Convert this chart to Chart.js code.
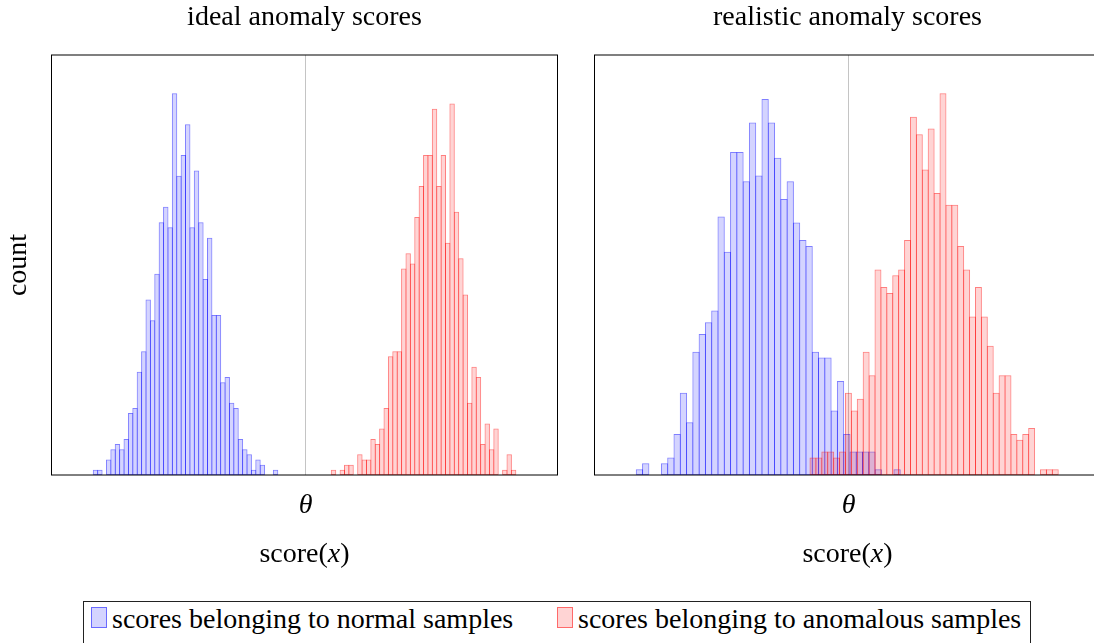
<!DOCTYPE html>
<html>
<head>
<meta charset="utf-8">
<script src="https://cdn.jsdelivr.net/npm/chart.js@4.4.1/dist/chart.umd.min.js"></script>
<style>
  html, body { margin: 0; padding: 0; background: #fff; }
  body { width: 1094px; height: 643px; overflow: hidden; position: relative; font-family: "Liberation Serif", serif; color: #000; }
  #left { position: absolute; left: 0; top: 0; }
  #right { position: absolute; left: 570px; top: 0; }
  #legend { position: absolute; left: 83px; top: 601px; width: 948px; height: 60px; border: 1px solid #222; box-sizing: border-box; }
  .sw { position: absolute; top: 5px; width: 16px; height: 21px; box-sizing: border-box; border: 1px solid; }
  .lbl { position: absolute; top: 2.5px; font-size: 28px; line-height: 28px; white-space: nowrap; }
</style>
</head>
<body>
<canvas id="left" width="580" height="600"></canvas>
<canvas id="right" width="540" height="600"></canvas>
<div id="legend">
  <span class="sw" id="sw0" style="left:7px"></span><span class="lbl" id="lbl0" style="left:28px"></span>
  <span class="sw" id="sw1" style="left:473px"></span><span class="lbl" id="lbl1" style="left:494px"></span>
</div>
<script>
// Score axis (arbitrary units) and decision threshold
const X_MIN = 0;
const X_MAX = 10;
const THETA = 5.02;

// Histogram counts per bin (1000 samples each)
const idealNormalCounts = [1, 1, 0, 3, 5, 6, 5, 7, 12, 13, 20, 24, 34, 30, 39, 49, 52, 48, 74, 58, 62, 68, 48, 59, 49, 38, 46, 31, 31, 18, 19, 14, 13, 7, 5, 4, 1, 3, 2, 0, 0, 1];
const idealAnomalousCounts = [1, 0, 1, 2, 2, 0, 4, 3, 3, 7, 6, 9, 13, 23, 24, 24, 40, 43, 41, 50, 56, 62, 62, 71, 56, 62, 45, 72, 51, 42, 35, 14, 21, 19, 6, 10, 5, 9, 0, 1, 4, 1];
const realisticNormalCounts = [1, 2, 0, 0, 2, 3, 7, 14, 9, 21, 24, 26, 28, 44, 38, 55, 55, 50, 60, 51, 64, 60, 54, 47, 50, 43, 40, 39, 21, 20, 20, 11, 16, 7, 4, 4, 4, 4, 1, 0, 0, 1];
const realisticAnomalousCounts = [3, 3, 4, 4, 3, 4, 14, 11, 13, 21, 17, 35, 32, 31, 34, 35, 40, 61, 58, 52, 59, 48, 65, 46, 46, 39, 35, 27, 32, 27, 22, 14, 17, 17, 7, 6, 7, 8, 0, 1, 1, 1];

// Bin layout: first bin edge and bin width, in score units
const idealNormalBins = [0.826, 0.0868];
const idealAnomalousBins = [5.530, 0.0868];
const realisticNormalBins = [0.826, 0.1242];
const realisticAnomalousBins = [4.259, 0.1168];

// Text
const panelTitles = ['ideal anomaly scores', 'realistic anomaly scores'];
const seriesLabels = ['scores belonging to normal samples', 'scores belonging to anomalous samples'];
const thetaLabel = 'θ';
const yTitle = 'count';

const FONT = '"Liberation Serif", serif';
const NORMAL_FILL = 'rgba(0, 0, 255, 0.17)';
const NORMAL_LINE = 'rgba(0, 0, 255, 0.5)';
const ANOM_FILL = 'rgba(255, 0, 0, 0.17)';
const ANOM_LINE = 'rgba(255, 0, 0, 0.5)';

function histPoints(bins, counts) {
  const [start, width] = bins;
  return counts.map((c, i) => ({ x: start + (i + 0.5) * width, y: c }));
}

// Frame, panel title and the score(x) caption
const panelDecor = {
  id: 'panelDecor',
  afterDraw(chart, args, opts) {
    const { ctx, chartArea: a } = chart;
    ctx.save();
    ctx.strokeStyle = '#000';
    ctx.lineWidth = 1;
    ctx.strokeRect(a.left, a.top, a.right - a.left, a.bottom - a.top);
    const cx = (a.left + a.right) / 2;
    ctx.fillStyle = '#000';
    ctx.textBaseline = 'alphabetic';
    ctx.textAlign = 'center';
    ctx.font = '28px ' + FONT;
    ctx.fillText(opts.title, cx, a.top - 30);
    const parts = [['score(', ''], ['x', 'italic '], [')', '']];
    let total = 0;
    const widths = parts.map(([t, s]) => { ctx.font = s + '28px ' + FONT; const w = ctx.measureText(t).width; total += w; return w; });
    let x = cx - total / 2;
    ctx.textAlign = 'left';
    parts.forEach(([t, s], i) => { ctx.font = s + '28px ' + FONT; ctx.fillText(t, x, a.bottom + 87); x += widths[i]; });
    ctx.restore();
  }
};

function barSet(label, data, bins, axis, fill, line, order) {
  return {
    label, data, xAxisID: axis, binWidth: bins[1],
    backgroundColor: fill, borderColor: line, borderWidth: 1, borderSkipped: false,
    barPercentage: 1, categoryPercentage: 1, grouped: false, order
  };
}

function thetaTicks(scale) { scale.ticks = [{ value: THETA }]; }

function makePanel(id, title, normalBins, normalCounts, anomBins, anomCounts, showY, padding) {
  const yMax = Math.max(...normalCounts, ...anomCounts) * 1.1;
  const chart = new Chart(document.getElementById(id), {
    type: 'bar',
    data: {
      datasets: [
        barSet(seriesLabels[0], histPoints(normalBins, normalCounts), normalBins, 'xn', NORMAL_FILL, NORMAL_LINE, 1),
        barSet(seriesLabels[1], histPoints(anomBins, anomCounts), anomBins, 'xa', ANOM_FILL, ANOM_LINE, 0)
      ]
    },
    options: {
      responsive: false,
      animation: false,
      layout: { padding },
      plugins: {
        legend: { display: false },
        tooltip: { enabled: false },
        title: { display: false },
        panelDecor: { title }
      },
      scales: {
        xn: {
          type: 'linear', position: 'bottom', min: X_MIN, max: X_MAX, offset: false,
          grid: { offset: false, color: '#c4c4c4', lineWidth: 1, drawTicks: false },
          border: { display: false },
          ticks: { color: '#000', padding: 14, maxRotation: 0, autoSkip: false,
                   font: { family: FONT, size: 28, style: 'italic' }, callback: () => thetaLabel },
          afterBuildTicks: thetaTicks,
          afterFit: s => { s.height = 125; }
        },
        xa: {
          type: 'linear', display: false, min: X_MIN, max: X_MAX, offset: false,
          grid: { offset: false }, afterBuildTicks: thetaTicks
        },
        y: {
          display: showY, min: 0, max: yMax,
          ticks: { display: false }, grid: { display: false }, border: { display: false },
          title: { display: showY, text: yTitle, color: '#000', font: { family: FONT, size: 28 }, padding: { top: 2, bottom: 0 } },
          afterFit: s => { s.width = showY ? 51.5 : 0; }
        }
      }
    },
    plugins: [panelDecor]
  });
  // Widen each bar by one pixel so neighbouring outlines sit on the shared bin edge
  chart.data.datasets.forEach(ds => {
    const s = chart.scales[ds.xAxisID];
    const px = Math.abs(s.getPixelForValue(ds.binWidth) - s.getPixelForValue(0));
    ds.barPercentage = (px + 1) / px;
  });
  chart.update();
  return chart;
}

makePanel('left', panelTitles[0], idealNormalBins, idealNormalCounts, idealAnomalousBins, idealAnomalousCounts,
          true, { left: 0, right: 22.5, top: 55, bottom: 0 });
makePanel('right', panelTitles[1], realisticNormalBins, realisticNormalCounts, realisticAnomalousBins, realisticAnomalousCounts,
          false, { left: 24.5, right: 9.5, top: 55, bottom: 0 });

// Legend
document.getElementById('sw0').style.cssText += `background:${NORMAL_FILL};border-color:${NORMAL_LINE};`;
document.getElementById('sw1').style.cssText += `background:${ANOM_FILL};border-color:${ANOM_LINE};`;
document.getElementById('lbl0').textContent = seriesLabels[0];
document.getElementById('lbl1').textContent = seriesLabels[1];
</script>
</body>
</html>
